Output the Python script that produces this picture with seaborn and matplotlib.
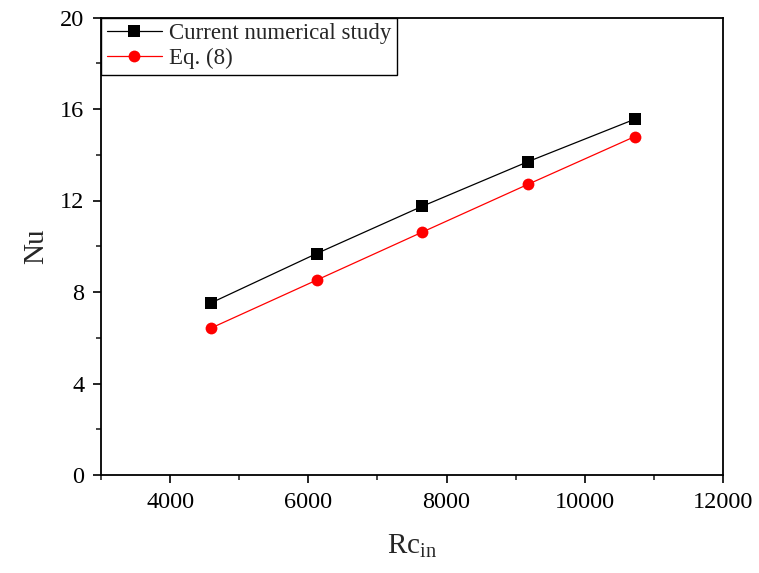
#!/usr/bin/env python3
"""Nu vs Rc_in: current numerical study against Eq. (8)."""

import matplotlib

matplotlib.use("Agg")

import matplotlib.pyplot as plt
from matplotlib.ticker import MultipleLocator
import pandas as pd
import seaborn as sns


RC_IN = [4590, 6120, 7650, 9180, 10720]
NU_NUMERICAL = [7.52, 9.68, 11.75, 13.70, 15.55]
NU_EQ8 = [6.42, 8.52, 10.62, 12.71, 14.79]
SERIES_NAMES = ["Current numerical study", "Eq. (8)"]


def main() -> None:
    sns.set_theme(style="ticks")
    plt.rcParams["font.family"] = ["Liberation Serif", "DejaVu Serif"]
    plt.rcParams["mathtext.fontset"] = "custom"
    plt.rcParams["mathtext.rm"] = "Liberation Serif"

    data = pd.DataFrame(
        {
            "Rc": RC_IN * 2,
            "Nu": NU_NUMERICAL + NU_EQ8,
            "series": [SERIES_NAMES[0]] * len(RC_IN) + [SERIES_NAMES[1]] * len(RC_IN),
        }
    )

    fig = plt.figure(figsize=(7.59, 5.73), dpi=100)
    ax = fig.add_axes([101 / 759, 98 / 573, 622 / 759, 457.5 / 573])

    sns.lineplot(
        data=data,
        x="Rc",
        y="Nu",
        hue="series",
        style="series",
        hue_order=SERIES_NAMES,
        style_order=SERIES_NAMES,
        palette={SERIES_NAMES[0]: "black", SERIES_NAMES[1]: "red"},
        markers={SERIES_NAMES[0]: "s", SERIES_NAMES[1]: "o"},
        dashes=False,
        markersize=8.5,
        markeredgewidth=0,
        linewidth=0.9,
        ax=ax,
    )

    ax.set_xlim(3000, 12000)
    ax.set_ylim(0, 20)
    ax.xaxis.set_major_locator(MultipleLocator(2000))
    ax.xaxis.set_minor_locator(MultipleLocator(1000))
    ax.yaxis.set_major_locator(MultipleLocator(4))
    ax.yaxis.set_minor_locator(MultipleLocator(2))
    ax.tick_params(which="major", direction="out", length=6, width=1.2,
                   labelsize=17.5, colors="black", pad=6)
    ax.tick_params(which="minor", direction="out", length=3.5, width=1.2)
    ax.set_xticks([4000, 6000, 8000, 10000, 12000])
    for spine in ax.spines.values():
        spine.set_linewidth(1.3)
        spine.set_color("black")

    ax.set_xlabel(r"Rc$_{\mathrm{in}}$", fontsize=21, labelpad=14)
    ax.set_ylabel("Nu", fontsize=21, labelpad=8)

    leg = ax.legend(
        title=None,
        loc="upper left",
        fontsize=16.5,
        frameon=True,
        fancybox=False,
        edgecolor="black",
        framealpha=1,
        borderaxespad=0,
        handlelength=2.4,
        handletextpad=0.3,
        borderpad=0.25,
        labelspacing=0.15,
    )
    leg.get_frame().set_linewidth(1.0)

    fig.savefig("out.png", dpi=100)
    plt.close(fig)


if __name__ == "__main__":
    main()
